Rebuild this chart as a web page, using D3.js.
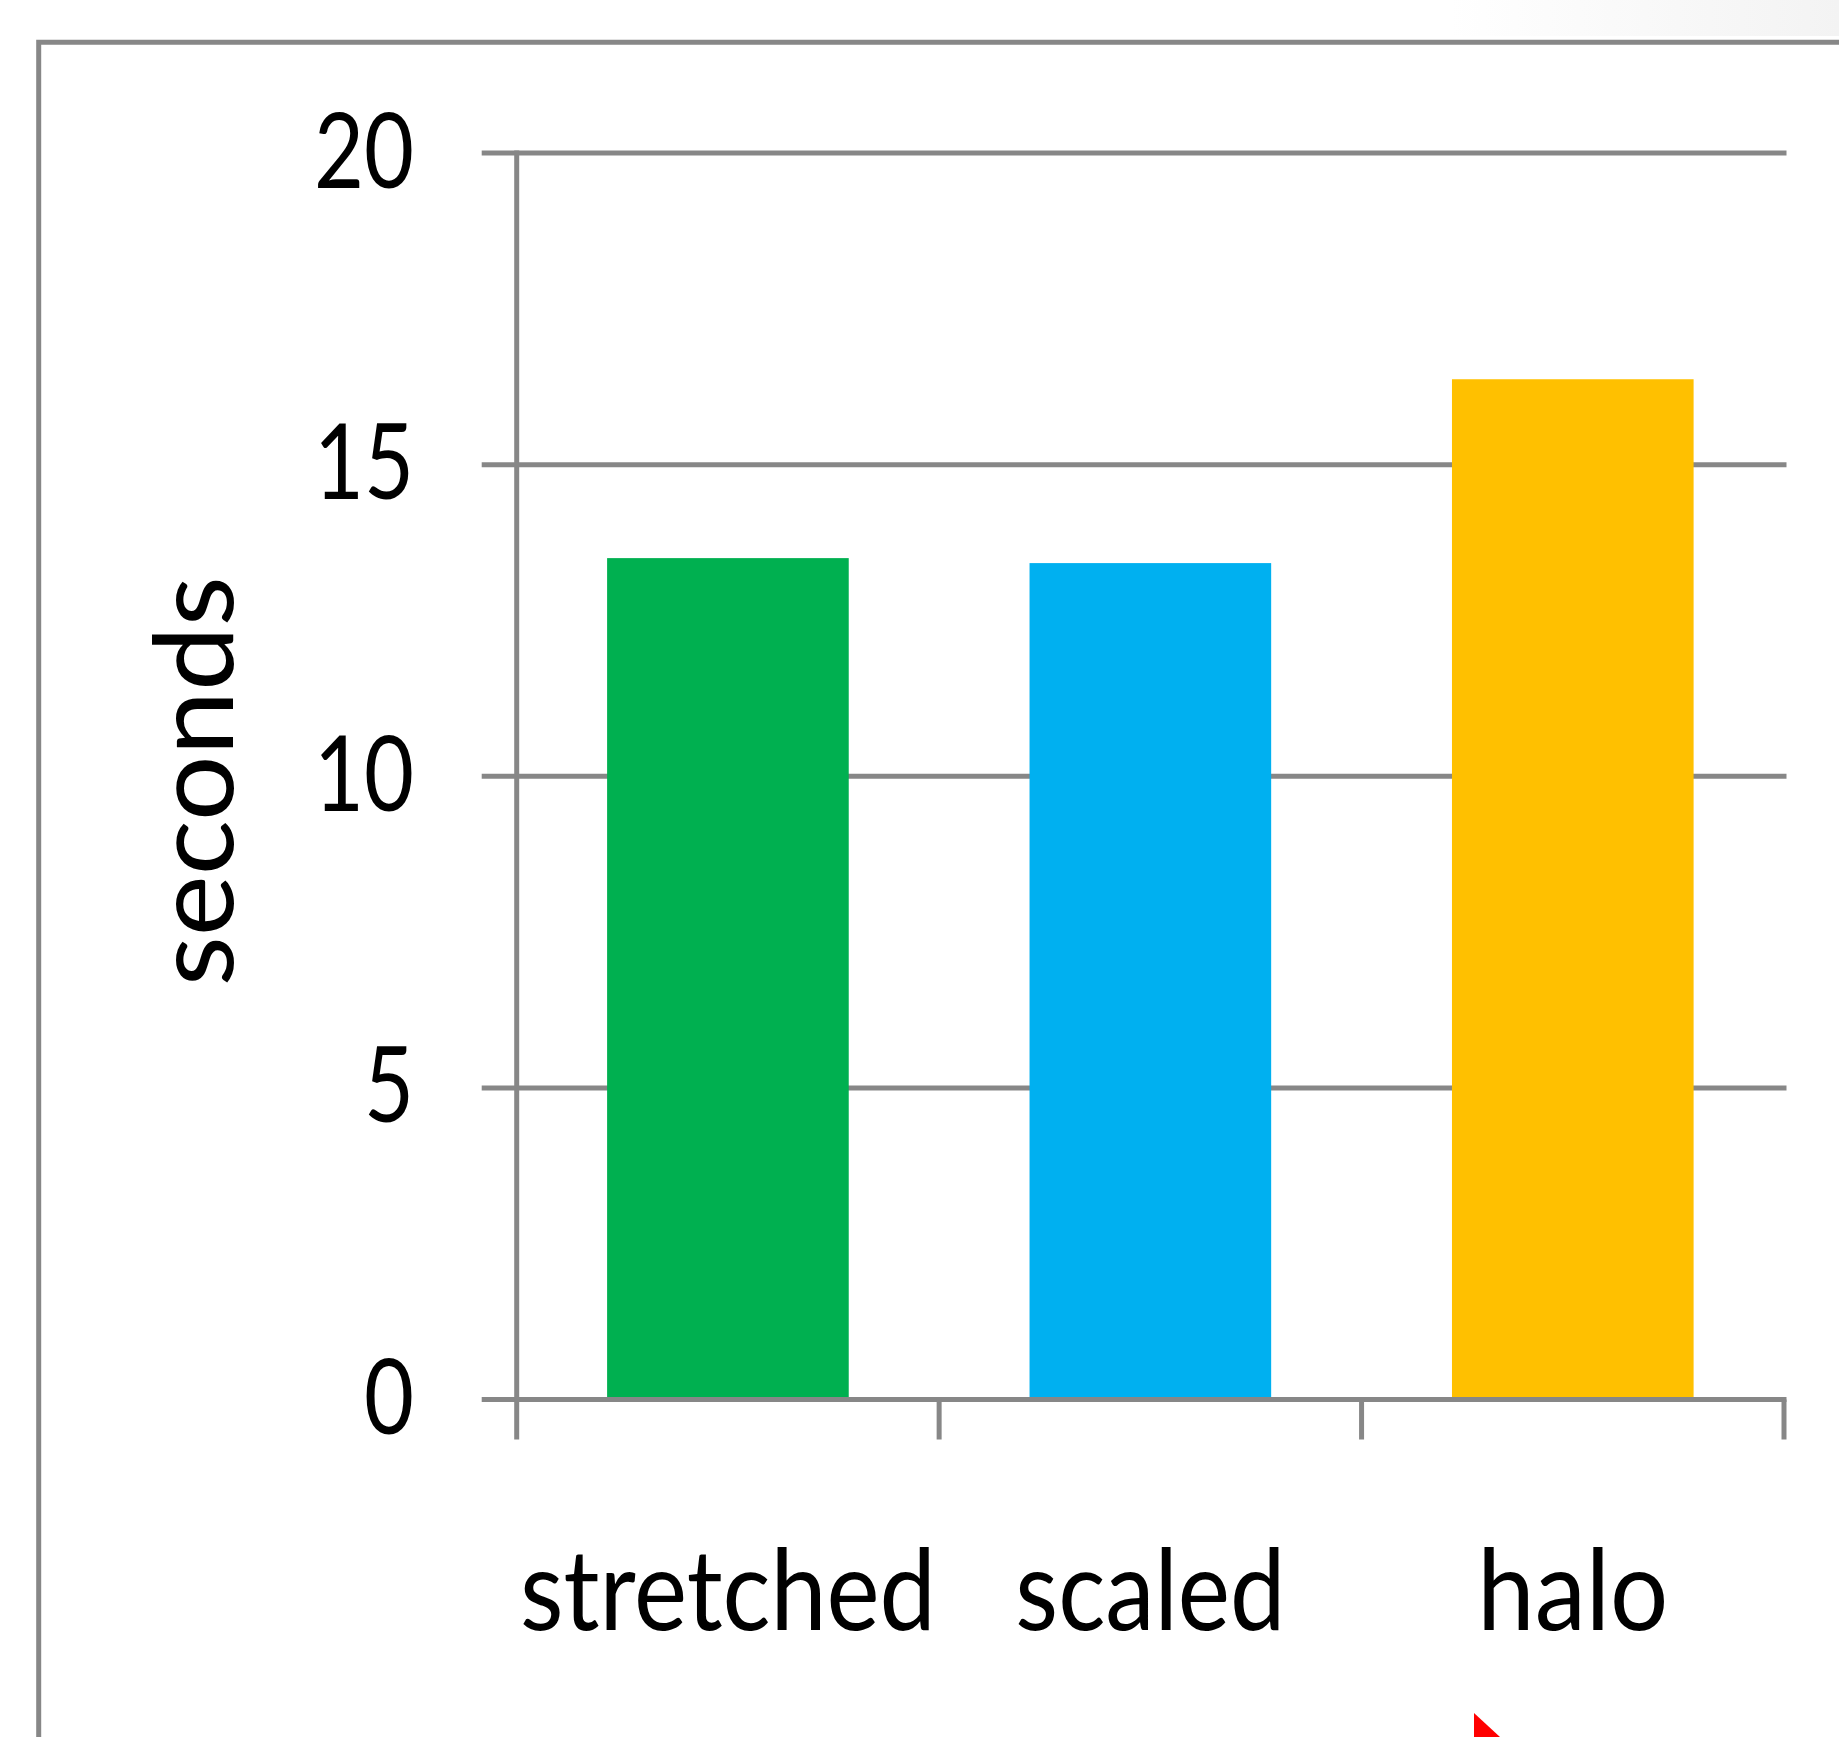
<!DOCTYPE html>
<html>
<head>
<meta charset="utf-8">
<script src="https://cdn.jsdelivr.net/npm/d3@7"></script>
<style>
  html, body { margin: 0; padding: 0; background: #fff; }
  svg { display: block; }
</style>
</head>
<body>
<svg id="chart" width="1839" height="1737"></svg>
<script>
// ---- data ----
const categories = ["stretched", "scaled", "halo"];
const seriesValues = [13.5, 13.42, 16.37];
const barColors = ["#00B050", "#00B0F0", "#FFC000"];
const yTickValues = [0, 5, 10, 15, 20];
const yTickLabels = ["0", "5", "10", "15", "20"];
const yTitle = "seconds";

// ---- layout ----
const W = 1839, H = 1737;
const plot = { left: 516.7, right: 1784, top: 153, bottom: 1399.5 };
const lineColor = "#878787";
const lineW = 5;
const fontFam = "Lato, 'Open Sans', 'Noto Sans', sans-serif";

const svg = d3.select("#chart");

// faint shade at top-right corner
const defs = svg.append("defs");
const grad = defs.append("linearGradient").attr("id", "shade").attr("x1", 0).attr("x2", 1);
grad.append("stop").attr("offset", 0).attr("stop-color", "#ffffff");
grad.append("stop").attr("offset", 1).attr("stop-color", "#f3f3f3");
svg.append("rect").attr("x", 1450).attr("y", 0).attr("width", W - 1450).attr("height", 36)
  .attr("fill", "url(#shade)");

// outer frame (top + left)
svg.append("path")
  .attr("d", `M${W},42.3 L38.7,42.3 L38.7,${H}`)
  .attr("fill", "none").attr("stroke", lineColor).attr("stroke-width", lineW);

// scales
const x = d3.scaleBand().domain(categories).range([plot.left, plot.right]).padding(0);
const y = d3.scaleLinear().domain([0, 20]).range([plot.bottom, plot.top]);
const barFrac = 0.572;

// gridlines
svg.append("g").selectAll("line").data(yTickValues).join("line")
  .attr("x1", plot.left - 35).attr("x2", plot.right + 2.5)
  .attr("y1", d => y(d)).attr("y2", d => y(d))
  .attr("stroke", lineColor).attr("stroke-width", lineW);

// bars
svg.append("g").selectAll("rect").data(categories).join("rect")
  .attr("x", d => x(d) + x.bandwidth() * (1 - barFrac) / 2)
  .attr("width", x.bandwidth() * barFrac)
  .attr("y", (d, i) => y(seriesValues[i]))
  .attr("height", (d, i) => y(0) - lineW / 2 - y(seriesValues[i]))
  .attr("fill", (d, i) => barColors[i]);

// vertical axis line
svg.append("line")
  .attr("x1", plot.left).attr("x2", plot.left)
  .attr("y1", plot.top - lineW / 2).attr("y2", plot.bottom)
  .attr("stroke", lineColor).attr("stroke-width", lineW);

// x ticks at band boundaries
const xTicks = categories.map(c => x(c)).concat([x(categories[categories.length - 1]) + x.bandwidth()]);
svg.append("g").selectAll("line").data(xTicks).join("line")
  .attr("x1", d => d).attr("x2", d => d)
  .attr("y1", plot.bottom).attr("y2", 1439.5)
  .attr("stroke", lineColor).attr("stroke-width", lineW);

// y axis labels via d3 axis
const yAxis = d3.axisLeft(y).tickValues(yTickValues)
  .tickFormat((d, i) => yTickLabels[i]).tickSize(0).tickPadding(0);
const gy = svg.append("g").attr("transform", `translate(414,0)`).call(yAxis);
gy.select(".domain").remove();
gy.selectAll("text")
  .attr("font-family", fontFam).attr("font-size", 104).attr("fill", "#000")
  .attr("dy", null).attr("y", 34)
  .attr("textLength", function(d, i) { return yTickLabels[yTickValues.indexOf(d)].length * 50; })
  .attr("lengthAdjust", "spacingAndGlyphs");

// x category labels
const xLabelWidths = { stretched: 416, scaled: 270, halo: 191 };
svg.append("g").selectAll("text").data(categories).join("text")
  .attr("x", d => x(d) + x.bandwidth() / 2)
  .attr("y", 1630)
  .attr("text-anchor", "middle")
  .attr("font-family", fontFam).attr("font-size", 112).attr("fill", "#000")
  .attr("textLength", d => xLabelWidths[d])
  .attr("lengthAdjust", "spacingAndGlyphs")
  .text(d => d);

// y title
svg.append("text")
  .attr("transform", `translate(233,${(plot.top + plot.bottom) / 2 + 5}) rotate(-90)`)
  .attr("text-anchor", "middle")
  .attr("font-family", fontFam).attr("font-size", 110).attr("fill", "#000")
  .attr("textLength", 410).attr("lengthAdjust", "spacingAndGlyphs")
  .text(yTitle);

// red pointer tip at bottom
svg.append("path")
  .attr("d", `M1474,1713 L1474,${H} L1500,${H} Z`)
  .attr("fill", "#ff0000");
</script>
</body>
</html>
